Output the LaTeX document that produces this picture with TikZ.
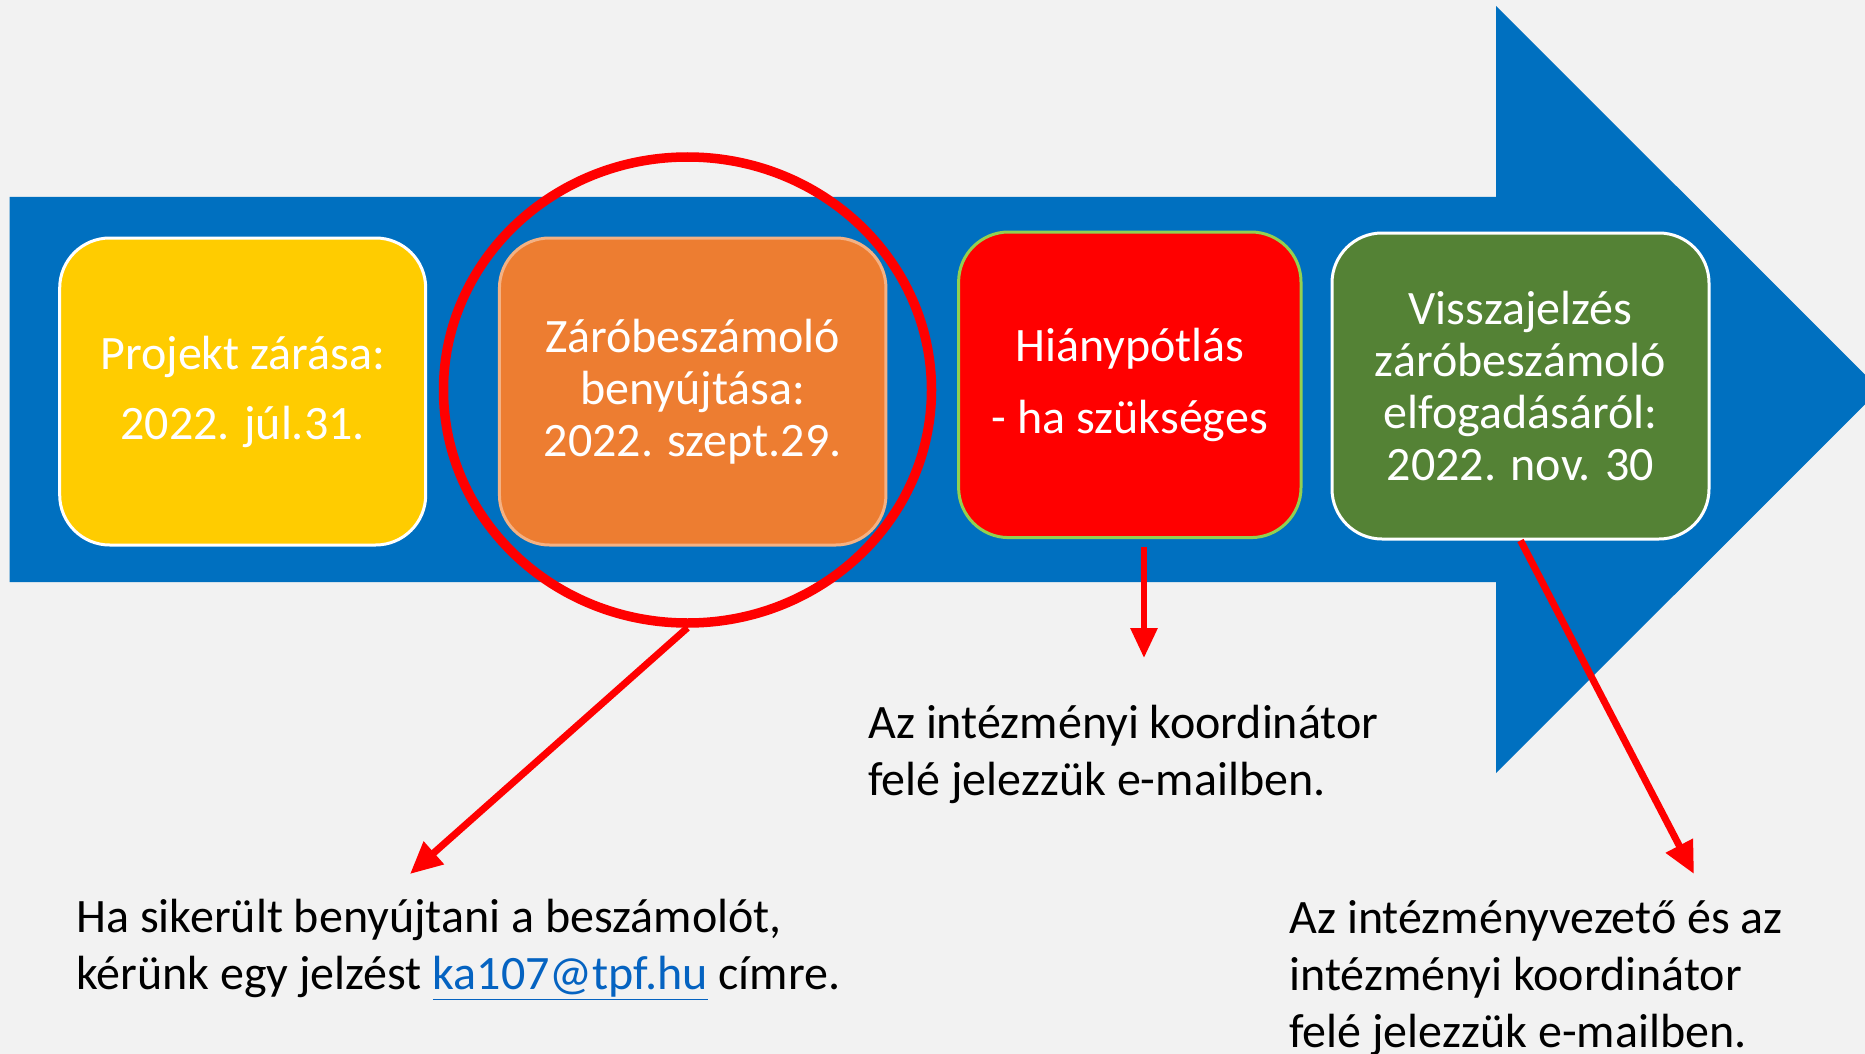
\documentclass[tikz,border=0pt]{standalone}
\usepackage{fontspec}
\setmainfont{Carlito}
\usetikzlibrary{arrows.meta,shapes.geometric}
\definecolor{bggray}{HTML}{F2F2F2}
\definecolor{flowblue}{HTML}{0070C0}
\definecolor{boxyellow}{HTML}{FFCC00}
\definecolor{boxorange}{HTML}{ED7D31}
\definecolor{edgeorange}{HTML}{F4B183}
\definecolor{boxgreen}{HTML}{548235}
\definecolor{edgegreen}{HTML}{92D050}
\definecolor{linkblue}{HTML}{0563C1}
\begin{document}
\begin{tikzpicture}[x=0.5pt,y=-0.5pt,line join=round,
  box/.style={rounded corners=25pt,draw=white,line width=1.5pt,text=white,align=center,inner sep=0pt,font=\fontsize{24}{26}\selectfont},
  note/.style={anchor=west,align=left,inner sep=0pt,font=\fontsize{24}{28.5}\selectfont},
  pointer/.style={draw=red,line width=3.5pt,-{Triangle[length=16pt,width=14.5pt]}}]
 \useasboundingbox (0,0) rectangle (1865,1054);
 \fill[bggray] (0,0) rectangle (1865,1054);
 \begin{scope}
  \clip (0,0) rectangle (1865,1054);
  \fill[flowblue] (9.5,197) -- (1496,197) -- (1496,6) -- (1880,389.5) -- (1496,773) -- (1496,582) -- (9.5,582) -- cycle;
 \end{scope}
 \node[box,fill=boxyellow,minimum width=183pt,minimum height=153.5pt,font=\fontsize{24}{35}\selectfont] (close) at (242.7,391.5) {Projekt zárása:\\2022. júl.31.};
 \node[box,fill=boxorange,draw=edgeorange,minimum width=193.25pt,minimum height=153.5pt] (report) at (692.7,391.5) {Záróbeszámoló\\benyújtása:\\2022. szept.29.};
 \node[box,fill=red,draw=edgegreen,minimum width=171.2pt,minimum height=152.8pt,font=\fontsize{24}{35.8}\selectfont] (missing) at (1129.8,384.8) {Hiánypótlás\\- ha szükséges};
 \node[box,fill=boxgreen,minimum width=188.5pt,minimum height=153pt] (accept) at (1520.5,386) {Visszajelzés\\záróbeszámoló\\elfogadásáról:\\2022. nov. 30};
 \node[draw=red,line width=4.75pt,ellipse,inner sep=0pt,minimum width=244pt,minimum height=233pt] (ring) at (687.5,390) {};
 \coordinate (tipa) at (410,874);
 \coordinate (starta) at (1144,547);
 \coordinate (tipb) at (1144,658);
 \coordinate (tipc) at (1694,874);
 \draw[pointer] (ring.south) -- (tipa);
 \draw[pointer,line width=3pt,-{Triangle[length=15pt,width=13pt]}] (starta) -- (tipb);
 \draw[pointer] (accept.south) -- (tipc);
 \node[note] (sent) at (76,950) {Ha sikerült benyújtani a beszámolót,\\kérünk egy jelzést \textcolor{linkblue}{\underline{ka107@tpf.hu}} címre.};
 \node[note] (coord) at (868,754) {Az intézményi koordinátor\\felé jelezzük e-mailben.};
 \node[note] (heads) at (1289,978) {Az intézményvezető és az\\intézményi koordinátor\\felé jelezzük e-mailben.};
\end{tikzpicture}
\end{document}
